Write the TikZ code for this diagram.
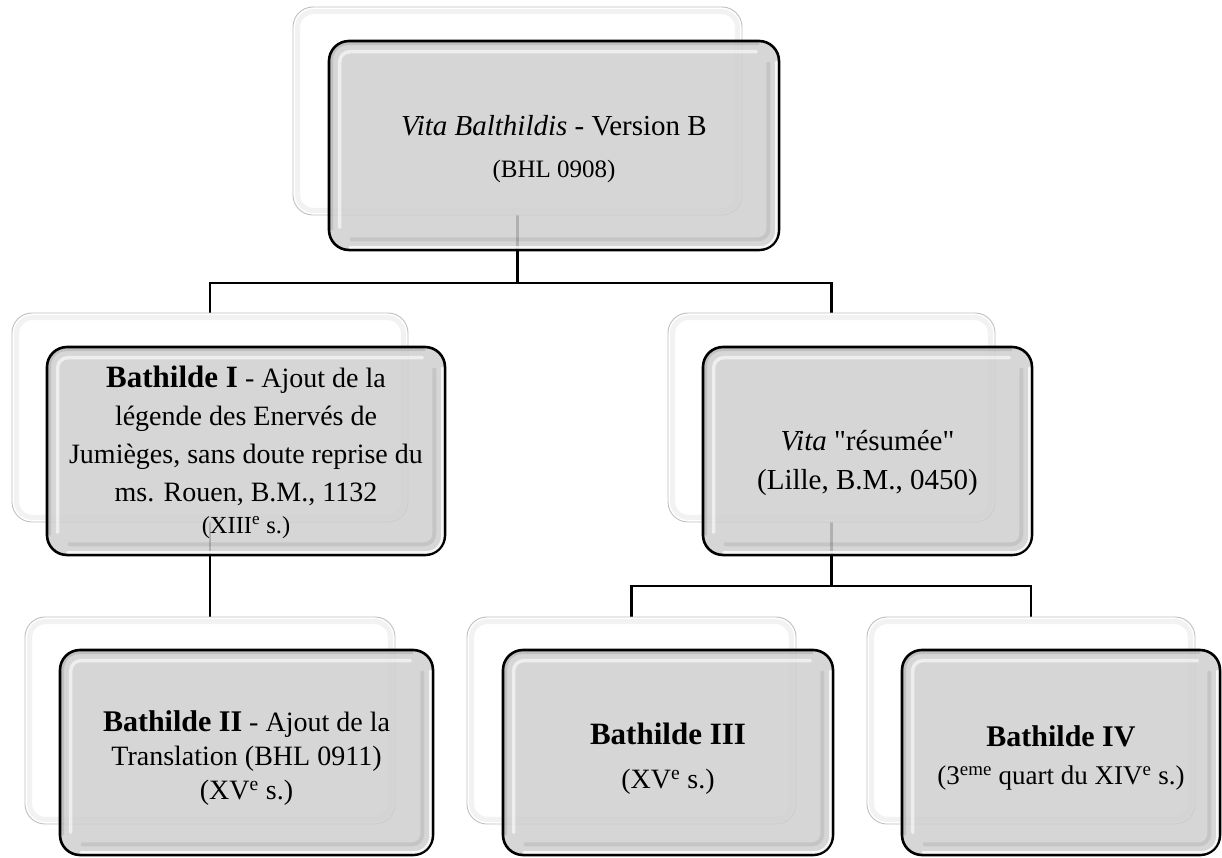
\documentclass[tikz,border=0pt]{standalone}
\usepackage{fontspec}
\setmainfont{Liberation Serif}
\newfontfamily\qfont{Liberation Serif}[Ligatures=TeXOff]
\pgfdeclarelayer{paper}
\pgfdeclarelayer{bg}
\pgfsetlayers{paper,bg,main}
\definecolor{facegray}{HTML}{CFCFCF}
\tikzset{
  backbox/.style={draw=gray!50, line width=0.9bp, fill=white, rounded corners=20bp, inner sep=0pt},
  frontbox/.style={draw=black, line width=2.6bp, fill=facegray, fill opacity=0.85,
    rounded corners=20bp, inner sep=0pt},
  label/.style={align=center, inner sep=0pt},
  conn/.style={draw=black, line width=2.2bp},
  backbevel/.style={draw=gray!10, line width=5bp, rounded corners=16bp},
  hilite/.style={draw=white, draw opacity=0.6, line width=3.5bp, rounded corners=10bp, line cap=round},
  lowlite/.style={draw=black, draw opacity=0.08, line width=4bp, rounded corners=10bp, line cap=round},
  rimdark/.style={draw=black, draw opacity=0.10, line width=3bp, rounded corners=16bp, line cap=round},
  rimlight/.style={draw=white, draw opacity=0.8, line width=2.5bp, rounded corners=16bp, line cap=round},
}
\newcommand\fs[2]{\fontsize{#1bp}{#2bp}\selectfont}
\newcommand\qq{{\qfont"}}
\newcommand\backdeco[1]{%
  \draw[backbevel] ([shift={(5,5)}]#1.north west) rectangle ([shift={(-5,-5)}]#1.south east);}
\newcommand\frontdeco[1]{%
  \draw[rimdark] ([shift={(4,-22)}]#1.south west) -- ([shift={(4,4)}]#1.north west) -- ([shift={(-22,4)}]#1.north east);
  \draw[rimlight] ([shift={(22,-4)}]#1.south west) -- ([shift={(-4,-4)}]#1.south east) -- ([shift={(-4,22)}]#1.north east);
  \draw[hilite] ([shift={(12,-24)}]#1.south west) -- ([shift={(12,12)}]#1.north west) -- ([shift={(-24,12)}]#1.north east);
  \draw[lowlite] ([shift={(24,-12)}]#1.south west) -- ([shift={(-12,-12)}]#1.south east) -- ([shift={(-12,24)}]#1.north east);}
\begin{document}
\begin{tikzpicture}[x=1bp,y=-1bp]
\useasboundingbox (0,0) rectangle (1222,858);
\begin{pgfonlayer}{paper}
\fill[white] (0,0) rectangle (1222,858);
\end{pgfonlayer}
\coordinate (j0) at (0,283);
\coordinate (j1) at (0,586);

% top
\node[backbox, minimum width=449bp, minimum height=208bp] (b0) at (517.5,111) {};
\backdeco{b0}
\node[frontbox, minimum width=450bp, minimum height=209bp] (f0) at (554,145.5) {};
\frontdeco{f0}
\node[label, font=\fs{29}{42}] (t0) at (554,149)
  {{\itshape Vita Balthildis} - Version B\\\fs{25}{42}(BHL 0908)};

% level 2 left
\node[backbox, minimum width=396bp, minimum height=209bp] (b1) at (210,417.5) {};
\backdeco{b1}
\node[frontbox, minimum width=398bp, minimum height=208bp] (f1) at (246,451) {};
\frontdeco{f1}
\node[label, font=\fs{28}{38}] (t1) at (246,452)
  {{\fs{31}{38}\textbf{Bathilde I}} - Ajout de la\\légende des Enervés de\\Jumièges, sans doute reprise du\\ms. Rouen, B.M., 1132\\[-6bp]\fs{24.5}{30}(XIII\textsuperscript{e} s.)};

% level 2 right
\node[backbox, minimum width=327bp, minimum height=209bp] (b2) at (831.5,417.5) {};
\backdeco{b2}
\node[frontbox, minimum width=329bp, minimum height=208bp] (f2) at (867.5,451) {};
\frontdeco{f2}
\node[label, font=\fs{29}{38}] (t2) at (867.5,463)
  {{\itshape Vita} \qq résumée\qq\\(Lille, B.M., 0450)};

% level 3 left
\node[backbox, minimum width=370bp, minimum height=207bp] (b3) at (210,720.5) {};
\backdeco{b3}
\node[frontbox, minimum width=373bp, minimum height=205bp] (f3) at (246.5,752.5) {};
\frontdeco{f3}
\node[label, font=\fs{28}{34}] (t3) at (246.5,758)
  {{\fs{30}{34}\textbf{Bathilde II}} - Ajout de la\\Translation (BHL 0911)\\(XV\textsuperscript{e} s.)};

% level 3 middle
\node[backbox, minimum width=329bp, minimum height=207bp] (b4) at (631.5,720.5) {};
\backdeco{b4}
\node[frontbox, minimum width=330bp, minimum height=205bp] (f4) at (668,752.5) {};
\frontdeco{f4}
\node[label, font=\fs{31}{44}] (t4) at (668,758.5)
  {\textbf{Bathilde III}\\\fs{28}{44}(XV\textsuperscript{e} s.)};

% level 3 right
\node[backbox, minimum width=328bp, minimum height=207bp] (b5) at (1031,720.5) {};
\backdeco{b5}
\node[frontbox, minimum width=318bp, minimum height=205bp] (f5) at (1061,752.5) {};
\frontdeco{f5}
\node[label, font=\fs{30}{38}] (t5) at (1061,757.5)
  {\textbf{Bathilde IV}\\\fs{27}{38}(3\textsuperscript{eme} quart du XIV\textsuperscript{e} s.)};

\begin{pgfonlayer}{bg}
\draw[conn] (b0.center) -- (b0.center |- j0) -| (b1.north);
\draw[conn] (b0.center |- j0) -| (b2.north);
\draw[conn] (b1.center) -- (b3.north);
\draw[conn] (b2.center) -- (b2.center |- j1) -| (b4.north);
\draw[conn] (b2.center |- j1) -| (b5.north);
\end{pgfonlayer}
\end{tikzpicture}
\end{document}
